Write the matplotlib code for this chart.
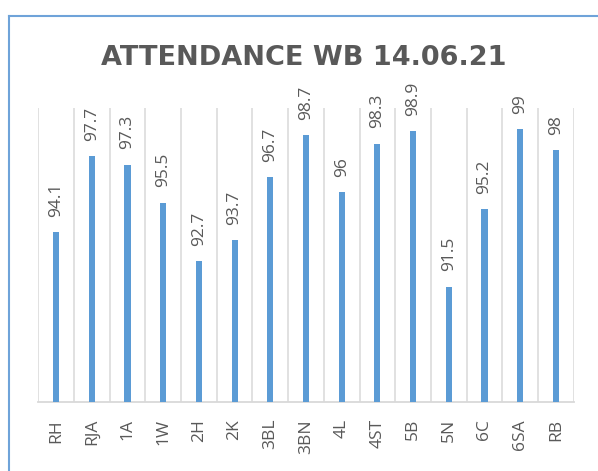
import matplotlib
matplotlib.use("Agg")
import matplotlib.pyplot as plt
from matplotlib.lines import Line2D

categories = ["RH", "RJA", "1A", "1W", "2H", "2K", "3BL", "3BN", "4L", "4ST", "5B", "5N", "6C", "6SA", "RB"]
values = [94.1, 97.7, 97.3, 95.5, 92.7, 93.7, 96.7, 98.7, 96, 98.3, 98.9, 91.5, 95.2, 99, 98]
value_labels = ["94.1", "97.7", "97.3", "95.5", "92.7", "93.7", "96.7", "98.7", "96", "98.3", "98.9", "91.5", "95.2", "99", "98"]
title = "ATTENDANCE WB 14.06.21"

plt.rcParams['font.family'] = ['Open Sans', 'DejaVu Sans']
text_color = "#595959"
bar_color = "#5B9BD5"
grid_color = "#D9D9D9"

W, H = 598, 471
fig = plt.figure(figsize=(W/100, H/100), dpi=100)
left, right, top, bottom = 38.3, 573.7, 108, 402.3
ax = fig.add_axes([left/W, 1 - bottom/H, (right-left)/W, (bottom-top)/H])

x = list(range(len(categories)))
ax.bar(x, values, width=0.17, color=bar_color, zorder=3)
ax.set_ylim(86, 100)
ax.set_xlim(-0.5, len(categories) - 0.5)

for i in range(len(categories) + 1):
    ax.axvline(i - 0.5, color=grid_color, lw=1.1, zorder=1)

for xi, v, lab in zip(x, values, value_labels):
    ax.annotate(lab, (xi, v), xytext=(0, 11), textcoords="offset points",
                rotation=90, ha="center", va="bottom", fontsize=12.5, color=text_color)

ax.set_xticks(x)
ax.set_xticklabels(categories, rotation=90, fontsize=12.5, color=text_color)
ax.tick_params(axis="x", length=0, pad=12)
ax.set_yticks([])
for s in ["top", "left", "right"]:
    ax.spines[s].set_visible(False)
ax.spines["bottom"].set_color(grid_color)
ax.spines["bottom"].set_linewidth(1.3)

fig.text(303.5/W, 1 - 65/H, title, ha="center", va="baseline", fontsize=19.5,
         fontweight="bold", color=text_color, family="DejaVu Sans")

# chart border (top and left visible)
bc = "#6FA3D9"
fig.add_artist(Line2D([9/W, 1], [1 - 15.7/H, 1 - 15.7/H], color=bc, lw=1.5, transform=fig.transFigure))
fig.add_artist(Line2D([9/W, 9/W], [0, 1 - 15.7/H], color=bc, lw=1.5, transform=fig.transFigure))

fig.savefig("out.png", dpi=100)
